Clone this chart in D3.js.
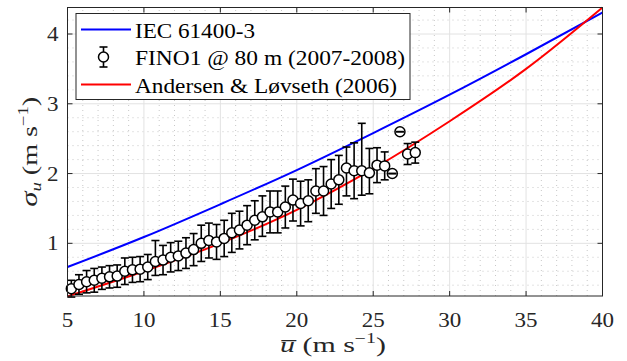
<!DOCTYPE html>
<html>
<head>
<meta charset="utf-8">
<script src="https://cdn.jsdelivr.net/npm/d3@7"></script>
<style>
  body { margin: 0; background: #fff; }
  svg { display: block; }
</style>
</head>
<body>
<div id="chart"></div>
<script>
// sigma_u vs mean wind speed, FINO1 compared with two models

const curveU = [5, 10, 15, 20, 25, 30, 35, 40];
const iecSigma = [0.66, 1.09, 1.56, 2.05, 2.58, 3.13, 3.71, 4.31];
const alSigma = [0.24, 0.60, 1.00, 1.48, 2.07, 2.75, 3.50, 4.38];

const finoU = [5.25, 5.75, 6.25, 6.75, 7.25, 7.75, 8.25, 8.75, 9.25, 9.75,
  10.25, 10.75, 11.25, 11.75, 12.25, 12.75, 13.25, 13.75, 14.25, 14.75,
  15.25, 15.75, 16.25, 16.75, 17.25, 17.75, 18.25, 18.75, 19.25, 19.75,
  20.25, 20.75, 21.25, 21.75, 22.25, 22.75, 23.25, 23.75, 24.25, 24.75,
  25.25, 25.75, 26.25, 26.75, 27.25, 27.75];
const finoSigma = [0.35, 0.41, 0.45, 0.47, 0.50, 0.52, 0.53, 0.60, 0.62, 0.63,
  0.66, 0.74, 0.76, 0.80, 0.82, 0.86, 0.91, 1.00, 1.04, 1.02,
  1.07, 1.15, 1.19, 1.26, 1.33, 1.38, 1.45, 1.45, 1.52, 1.62,
  1.57, 1.61, 1.75, 1.75, 1.85, 1.91, 2.08, 2.04, 2.04, 2.01,
  2.12, 2.11, 2.00, 2.60, 2.28, 2.30];
const finoLow = [0.12, 0.14, 0.16, 0.17, 0.16, 0.16, 0.16, 0.19, 0.18, 0.18,
  0.18, 0.20, 0.21, 0.21, 0.21, 0.22, 0.23, 0.26, 0.25, 0.25,
  0.26, 0.28, 0.27, 0.28, 0.28, 0.28, 0.30, 0.30, 0.30, 0.30,
  0.32, 0.30, 0.32, 0.35, 0.35, 0.35, 0.40, 0.40, 0.35, 0.30,
  0.25, 0.20, 0.0, 0.0, 0.15, 0.15];
const finoHigh = [0.12, 0.14, 0.16, 0.17, 0.16, 0.16, 0.16, 0.19, 0.18, 0.18,
  0.18, 0.30, 0.21, 0.21, 0.21, 0.22, 0.23, 0.26, 0.25, 0.25,
  0.26, 0.28, 0.27, 0.28, 0.28, 0.30, 0.30, 0.30, 0.30, 0.30,
  0.32, 0.30, 0.32, 0.35, 0.35, 0.35, 0.30, 0.40, 0.68, 0.35,
  0.25, 0.20, 0.0, 0.0, 0.15, 0.15];

const xTicks = [5, 10, 15, 20, 25, 30, 35, 40];
const yTicks = [1, 2, 3, 4];

const legendItems = ["IEC 61400-3", "FINO1 @ 80 m (2007-2008)", "Andersen & Løvseth (2006)"];
const legendTextWidth = [120, 270, 262];

const width = 627;
const height = 361;
const margin = { top: 7.5, right: 24.5, bottom: 65, left: 67.5 };
const fontFamily = '"Liberation Serif"';

const svg = d3.select("#chart")
  .append("svg")
  .attr("width", width)
  .attr("height", height)
  .style("font-family", fontFamily);

const x = d3.scaleLinear()
  .domain([5, 40])
  .range([margin.left, width - margin.right]);

const y = d3.scaleLinear()
  .domain([0.245, 4.38])
  .range([height - margin.bottom, margin.top]);

const x0 = margin.left, x1 = width - margin.right;
const y0 = height - margin.bottom, y1 = margin.top;

// grid
const grid = svg.append("g");
grid.selectAll("line.xminor")
  .data(d3.range(6, 40, 1).filter(v => v % 5 !== 0))
  .enter().append("line")
  .attr("x1", d => x(d)).attr("x2", d => x(d))
  .attr("y1", y0).attr("y2", y1)
  .attr("stroke", "#c8c8c8").attr("stroke-width", 1)
  .attr("stroke-dasharray", "1 4");
grid.selectAll("line.yminor")
  .data(d3.range(0.4, 4.38, 0.2).filter(v => Math.abs(v - Math.round(v)) > 0.01))
  .enter().append("line")
  .attr("y1", d => y(d)).attr("y2", d => y(d))
  .attr("x1", x0).attr("x2", x1)
  .attr("stroke", "#c8c8c8").attr("stroke-width", 1)
  .attr("stroke-dasharray", "1 4");
grid.selectAll("line.xmajor")
  .data(xTicks.slice(1, -1))
  .enter().append("line")
  .attr("x1", d => x(d)).attr("x2", d => x(d))
  .attr("y1", y0).attr("y2", y1)
  .attr("stroke", "#e2e2e2").attr("stroke-width", 1);
grid.selectAll("line.ymajor")
  .data(yTicks)
  .enter().append("line")
  .attr("y1", d => y(d)).attr("y2", d => y(d))
  .attr("x1", x0).attr("x2", x1)
  .attr("stroke", "#e2e2e2").attr("stroke-width", 1);

// model curves
const line = d3.line()
  .x(d => x(d[0]))
  .y(d => y(d[1]))
  .curve(d3.curveMonotoneX);

svg.append("path")
  .datum(curveU.map((u, i) => [u, iecSigma[i]]))
  .attr("d", line)
  .attr("fill", "none")
  .attr("stroke", "#0000ff")
  .attr("stroke-width", 2);

svg.append("path")
  .datum(curveU.map((u, i) => [u, alSigma[i]]))
  .attr("d", line)
  .attr("fill", "none")
  .attr("stroke", "#ff0000")
  .attr("stroke-width", 2);

// measurements with error bars
const fino = finoU.map((u, i) => ({ u, s: finoSigma[i], lo: finoSigma[i] - finoLow[i], hi: finoSigma[i] + finoHigh[i] }));
const capW = 4;
const ebStroke = 1.6;

svg.append("g")
  .attr("stroke", "#000")
  .attr("stroke-width", ebStroke)
  .selectAll("line").data(fino).enter().append("line")
  .attr("x1", d => x(d.u)).attr("x2", d => x(d.u))
  .attr("y1", d => y(d.lo)).attr("y2", d => y(d.hi));

svg.append("g").selectAll("circle")
  .data(fino).enter().append("circle")
  .attr("cx", d => x(d.u))
  .attr("cy", d => y(d.s))
  .attr("r", 5)
  .attr("fill", "#fff")
  .attr("stroke", "#000")
  .attr("stroke-width", 1.5);

// caps drawn last, so zero-width bars show through the marker
const caps = svg.append("g")
  .attr("stroke", "#000")
  .attr("stroke-width", ebStroke);
caps.selectAll("line.lo").data(fino).enter().append("line")
  .attr("x1", d => x(d.u) - capW).attr("x2", d => x(d.u) + capW)
  .attr("y1", d => y(d.lo)).attr("y2", d => y(d.lo));
caps.selectAll("line.hi").data(fino).enter().append("line")
  .attr("x1", d => x(d.u) - capW).attr("x2", d => x(d.u) + capW)
  .attr("y1", d => y(d.hi)).attr("y2", d => y(d.hi));

// frame and ticks
const axisColor = "#262626";
svg.append("rect")
  .attr("x", x0).attr("y", y1)
  .attr("width", x1 - x0).attr("height", y0 - y1)
  .attr("fill", "none")
  .attr("stroke", axisColor)
  .attr("stroke-width", 1);

const tickLen = 5;
const ticks = svg.append("g").attr("stroke", axisColor).attr("stroke-width", 1);
xTicks.forEach(t => {
  ticks.append("line").attr("x1", x(t)).attr("x2", x(t)).attr("y1", y0).attr("y2", y0 - tickLen);
  ticks.append("line").attr("x1", x(t)).attr("x2", x(t)).attr("y1", y1).attr("y2", y1 + tickLen);
});
yTicks.forEach(t => {
  ticks.append("line").attr("y1", y(t)).attr("y2", y(t)).attr("x1", x0).attr("x2", x0 + tickLen);
  ticks.append("line").attr("y1", y(t)).attr("y2", y(t)).attr("x1", x1).attr("x2", x1 - tickLen);
});

// the reference face is wider than Times, so glyphs get stretched a little
const fontSize = 20;
const digitW = 11.5;
svg.append("g").selectAll("text")
  .data(xTicks).enter().append("text")
  .attr("x", d => x(d))
  .attr("y", y0 + 31)
  .attr("text-anchor", "middle")
  .style("font-family", fontFamily)
  .attr("font-size", fontSize)
  .attr("textLength", d => String(d).length * digitW)
  .attr("lengthAdjust", "spacingAndGlyphs")
  .attr("fill", axisColor)
  .text(d => d);

svg.append("g").selectAll("text")
  .data(yTicks).enter().append("text")
  .attr("x", x0 - 9)
  .attr("y", d => y(d) + 7)
  .attr("text-anchor", "end")
  .style("font-family", fontFamily)
  .attr("font-size", fontSize)
  .attr("textLength", d => String(d).length * digitW)
  .attr("lengthAdjust", "spacingAndGlyphs")
  .attr("fill", axisColor)
  .text(d => d);

// axis labels
const labelSize = 21;
const supSize = 14;
const xLabel = svg.append("text")
  .attr("x", 333)
  .attr("y", 352)
  .attr("text-anchor", "middle")
  .style("font-family", fontFamily)
  .attr("font-size", labelSize)
  .attr("textLength", 106)
  .attr("lengthAdjust", "spacingAndGlyphs")
  .attr("fill", axisColor);
xLabel.append("tspan").attr("font-style", "italic").text("u\u0305");
xLabel.append("tspan").text(" (m s");
xLabel.append("tspan").attr("font-size", supSize).attr("dy", -9).text("\u22121");
xLabel.append("tspan").attr("dy", 9).text(")");

const yLabel = svg.append("text")
  .attr("transform", `translate(37,${(y0 + y1) / 2}) rotate(-90)`)
  .attr("text-anchor", "middle")
  .style("font-family", fontFamily)
  .attr("font-size", labelSize)
  .attr("textLength", 110)
  .attr("lengthAdjust", "spacingAndGlyphs")
  .attr("fill", axisColor);
yLabel.append("tspan").attr("font-style", "italic").attr("font-size", 23).text("σ");
yLabel.append("tspan").attr("font-style", "italic").attr("font-size", supSize).attr("dy", 4).text("u");
yLabel.append("tspan").attr("dy", -4).text(" (m s");
yLabel.append("tspan").attr("font-size", supSize).attr("dy", -9).text("\u22121");
yLabel.append("tspan").attr("dy", 9).text(")");

// legend
const legend = svg.append("g");
legend.append("rect")
  .attr("x", 76).attr("y", 13.5)
  .attr("width", 334).attr("height", 86)
  .attr("fill", "#fff")
  .attr("stroke", axisColor)
  .attr("stroke-width", 1);

const rowY = [29.5, 57, 84.5];
const legendColors = ["#0000ff", null, "#ff0000"];
legendItems.forEach((label, i) => {
  const g = legend.append("g").attr("transform", `translate(0,${rowY[i]})`);
  if (legendColors[i]) {
    g.append("line")
      .attr("x1", 81).attr("x2", 131)
      .attr("stroke", legendColors[i]).attr("stroke-width", 2);
  } else {
    g.append("line").attr("x1", 103.5).attr("x2", 103.5).attr("y1", -10).attr("y2", 10)
      .attr("stroke", "#000").attr("stroke-width", ebStroke);
    g.append("circle").attr("cx", 103.5).attr("r", 5)
      .attr("fill", "#fff").attr("stroke", "#000").attr("stroke-width", 1.5);
    g.append("line").attr("x1", 99.5).attr("x2", 107.5).attr("y1", -10).attr("y2", -10)
      .attr("stroke", "#000").attr("stroke-width", ebStroke);
    g.append("line").attr("x1", 99.5).attr("x2", 107.5).attr("y1", 10).attr("y2", 10)
      .attr("stroke", "#000").attr("stroke-width", ebStroke);
  }
  g.append("text")
    .attr("x", 135)
    .attr("y", 8)
    .style("font-family", fontFamily)
    .attr("font-size", 20.5)
    .attr("textLength", legendTextWidth[i])
    .attr("lengthAdjust", "spacingAndGlyphs")
    .attr("fill", "#000")
    .text(label);
});
</script>
</body>
</html>
